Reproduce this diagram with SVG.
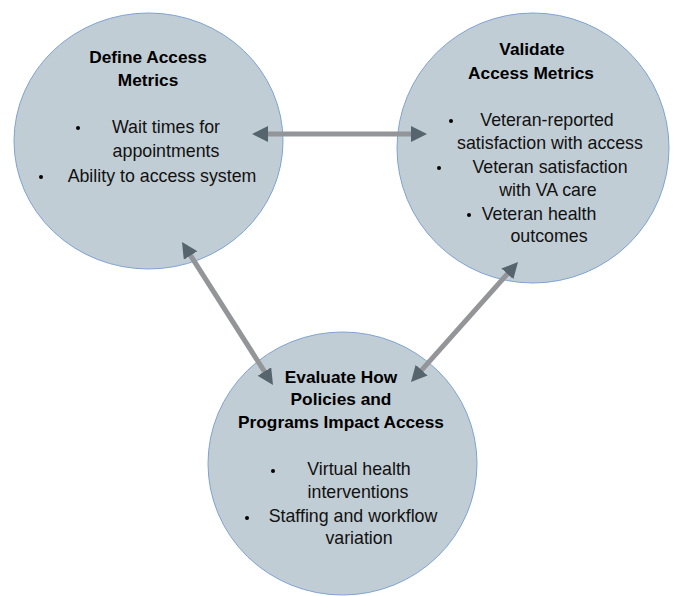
<svg xmlns="http://www.w3.org/2000/svg" width="677" height="596" viewBox="0 0 677 596">
  <defs>
    <style>
      .node { fill: #c1cdd5; stroke: #7ea3d3; stroke-width: 1; }
      .title { font-family: "Liberation Sans", Arial, sans-serif; font-weight: bold; font-size: 17.3px; fill: #000; text-anchor: middle; }
      .body { font-family: "Liberation Sans", Arial, sans-serif; font-size: 17.8px; fill: #111; text-anchor: middle; }
      .dot { fill: #000; }
      .shaft { stroke: #939598; stroke-width: 5; fill: none; marker-start: url(#head); marker-end: url(#head); }
    </style>
    <marker id="head" markerUnits="userSpaceOnUse" viewBox="0 0 16 16" markerWidth="16" markerHeight="16" refX="2" refY="8" orient="auto-start-reverse">
      <path d="M0,0 L16,8 L0,16 z" fill="#56646e"/>
    </marker>
  </defs>

  <g id="define-access-metrics">
    <ellipse class="node" cx="148.5" cy="141" rx="134.5" ry="128"/>
    <text class="title" x="148" y="63">Define Access</text>
    <text class="title" x="148" y="86">Metrics</text>
    <circle class="dot" cx="78" cy="128" r="2"/>
    <text class="body" x="166" y="133">Wait times for</text>
    <text class="body" x="166" y="157">appointments</text>
    <circle class="dot" cx="41" cy="177" r="2"/>
    <text class="body" x="162" y="182">Ability to access system</text>
  </g>

  <g id="validate-access-metrics">
    <ellipse class="node" cx="533" cy="148" rx="136" ry="135"/>
    <text class="title" x="532" y="55">Validate</text>
    <text class="title" x="531" y="79">Access Metrics</text>
    <circle class="dot" cx="451" cy="121" r="2"/>
    <text class="body" x="547" y="126">Veteran-reported</text>
    <text class="body" x="550" y="149">satisfaction with access</text>
    <circle class="dot" cx="439" cy="168" r="2"/>
    <text class="body" x="550" y="173">Veteran satisfaction</text>
    <text class="body" x="548" y="196">with VA care</text>
    <circle class="dot" cx="469" cy="215" r="2"/>
    <text class="body" x="539" y="220">Veteran health</text>
    <text class="body" x="549" y="242">outcomes</text>
  </g>

  <g id="evaluate-policies-programs">
    <ellipse class="node" cx="342.5" cy="463.5" rx="134.5" ry="131.5"/>
    <text class="title" x="341" y="383">Evaluate How</text>
    <text class="title" x="341" y="405">Policies and</text>
    <text class="title" x="341" y="428">Programs Impact Access</text>
    <circle class="dot" cx="273" cy="471" r="2"/>
    <text class="body" x="359" y="475">Virtual health</text>
    <text class="body" x="358" y="498">interventions</text>
    <circle class="dot" cx="247" cy="518" r="2"/>
    <text class="body" x="353" y="522">Staffing and workflow</text>
    <text class="body" x="359" y="544">variation</text>
  </g>

  <g id="connectors">
    <line class="shaft" x1="266" y1="134" x2="413" y2="134"/>
    <line class="shaft" x1="189.5" y1="253.8" x2="265.5" y2="373.2"/>
    <line class="shaft" x1="508.7" y1="272.4" x2="420.3" y2="371.6"/>
  </g>
</svg>
